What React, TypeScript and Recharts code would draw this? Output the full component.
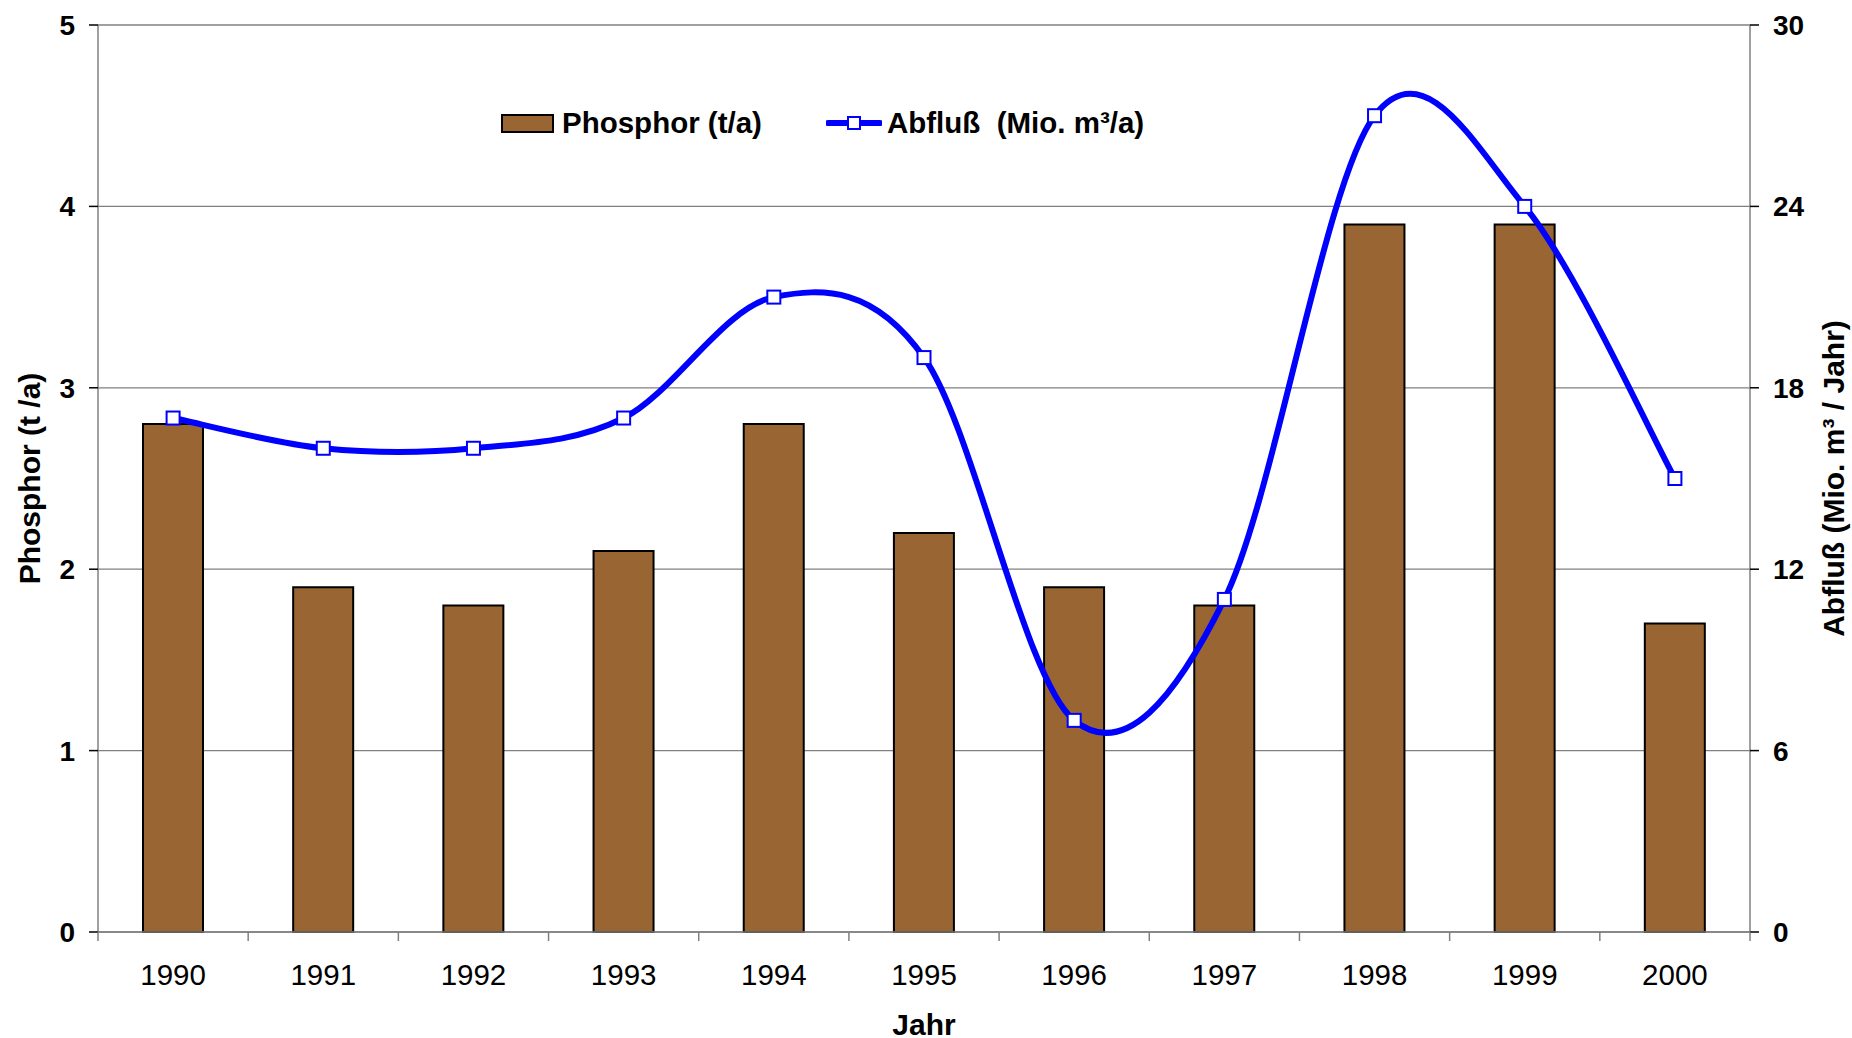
import React from 'react';
import { ComposedChart, Bar, Line, XAxis, YAxis, CartesianGrid, Legend } from 'recharts';

const YEARS = ['1990', '1991', '1992', '1993', '1994', '1995', '1996', '1997', '1998', '1999', '2000'];
const PHOSPHOR = [2.8, 1.9, 1.8, 2.1, 2.8, 2.2, 1.9, 1.8, 3.9, 3.9, 1.7];
const ABFLUSS = [17, 16, 16, 17, 21, 19, 7, 11, 27, 24, 15];

const LEFT_TICKS = [0, 1, 2, 3, 4, 5];
const RIGHT_TICKS = [0, 6, 12, 18, 24, 30];

const FONT = '"Liberation Sans", Arial, sans-serif';
const BROWN = '#996633';
const BLUE = '#0000ff';
const GRAY = '#808080';
const X_TICK_SIZE = 9;
const X_TICK_MARGIN = 23;

const chartData = YEARS.map((year, i) => ({
    year,
    phosphor: PHOSPHOR[i],
    abfluss: ABFLUSS[i]
}));

// Excel-style smoothed line (Catmull-Rom through the points)
const excelCurve = (context: any) => {
    let pts: number[][] = [];
    return {
        areaStart() {},
        areaEnd() {},
        lineStart() { pts = []; },
        point(x: number, y: number) { pts.push([+x, +y]); },
        lineEnd() {
            if (!pts.length) return;
            context.moveTo(pts[0][0], pts[0][1]);
            for (let i = 0; i < pts.length - 1; i++) {
                const p0 = pts[Math.max(i - 1, 0)];
                const p1 = pts[i];
                const p2 = pts[i + 1];
                const p3 = pts[Math.min(i + 2, pts.length - 1)];
                context.bezierCurveTo(
                    p1[0] + (p2[0] - p0[0]) / 6, p1[1] + (p2[1] - p0[1]) / 6,
                    p2[0] - (p3[0] - p1[0]) / 6, p2[1] - (p3[1] - p1[1]) / 6,
                    p2[0], p2[1]
                );
            }
        }
    };
};

const SquareDot = (props: any) => {
    const { cx, cy, index } = props;
    if (cx == null || cy == null) return <g key={index} />;
    return (
        <rect key={index} x={cx - 6.5} y={cy - 6.5} width={13} height={13}
            fill="#fff" stroke={BLUE} strokeWidth={2} />
    );
};

// year label plus the tick marks sitting between the categories
const YearTick = (props: any) => {
    const { x, y, payload, index, visibleTicksCount } = props;
    const half = payload && payload.offset ? payload.offset : 75;
    const axisY = y - X_TICK_SIZE - X_TICK_MARGIN;
    return (
        <g>
            <line x1={x - half} x2={x - half} y1={axisY} y2={axisY + X_TICK_SIZE} stroke={GRAY} strokeWidth={1.5} />
            {index === visibleTicksCount - 1 && (
                <line x1={x + half} x2={x + half} y1={axisY} y2={axisY + X_TICK_SIZE} stroke={GRAY} strokeWidth={1.5} />
            )}
            <text x={x} y={y} dy="0.71em" textAnchor="middle" fontSize={29.5} fontFamily={FONT} fill="#000">
                {payload.value}
            </text>
        </g>
    );
};

const LegendContent = () => (
    <div style={{ display: 'flex', alignItems: 'center', fontFamily: FONT, fontWeight: 'bold', fontSize: 29.5, color: '#000', whiteSpace: 'pre', lineHeight: '32px' }}>
        <div style={{ width: 53, height: 19, background: BROWN, border: '2px solid #000', boxSizing: 'border-box' }} />
        <span style={{ marginLeft: 8 }}>Phosphor (t/a)</span>
        <svg width={56} height={20} style={{ marginLeft: 64 }}>
            <line x1={2} y1={10} x2={54} y2={10} stroke={BLUE} strokeWidth={6} strokeLinecap="round" />
            <rect x={22} y={4} width={12} height={12} fill="#fff" stroke={BLUE} strokeWidth={2} />
        </svg>
        <span style={{ marginLeft: 5 }}>Abfluß  (Mio. m³/a)</span>
    </div>
);

export default function App() {
    const tickBold = { fontSize: 28, fontWeight: 'bold', fill: '#000', fontFamily: FONT };
    const titleStyle = { fontSize: 30, fontWeight: 'bold', fill: '#000', fontFamily: FONT, textAnchor: 'middle' as const };
    return (
        <div style={{ position: 'absolute', left: 0, top: 0, width: 1852, height: 1038, background: '#fff' }}>
            <ComposedChart width={1852} height={1038} data={chartData}
                margin={{ top: 25, right: 0, bottom: 0, left: 0 }}>
                <CartesianGrid yAxisId="left" vertical={false} stroke={GRAY} strokeWidth={1.3} />
                <XAxis dataKey="year" height={106} interval={0}
                    axisLine={{ stroke: GRAY, strokeWidth: 1.5 }} tickLine={false}
                    tickSize={X_TICK_SIZE} tickMargin={X_TICK_MARGIN}
                    tick={<YearTick />}
                    label={{ value: 'Jahr', position: 'insideBottom', offset: 3, style: titleStyle }} />
                <YAxis yAxisId="left" orientation="left" width={98} domain={[0, 5]} ticks={LEFT_TICKS}
                    interval={0} tickSize={9} tickMargin={14} tick={tickBold}
                    tickLine={{ stroke: '#000', strokeWidth: 1.5 }}
                    axisLine={{ stroke: GRAY, strokeWidth: 1.5 }}
                    label={{ value: 'Phosphor (t /a)', angle: -90, position: 'insideLeft', offset: 29, style: titleStyle }} />
                <YAxis yAxisId="right" orientation="right" width={102} domain={[0, 30]} ticks={RIGHT_TICKS}
                    interval={0} tickSize={9} tickMargin={14} tick={tickBold}
                    tickLine={{ stroke: '#000', strokeWidth: 1.5 }}
                    axisLine={{ stroke: GRAY, strokeWidth: 1.5 }}
                    label={{ value: 'Abfluß (Mio. m³ / Jahr)', angle: -90, position: 'insideRight', offset: 19, style: titleStyle }} />
                <Legend layout="vertical" align="center" verticalAlign="middle"
                    content={<LegendContent />}
                    wrapperStyle={{ top: 107, left: 501, width: 'auto', height: 'auto' }} />
                <Bar yAxisId="left" dataKey="phosphor" name="Phosphor (t/a)" fill={BROWN}
                    stroke="#000" strokeWidth={2} barSize={60} isAnimationActive={false} />
                <Line yAxisId="right" dataKey="abfluss" name="Abfluß  (Mio. m³/a)" type={excelCurve as any}
                    stroke={BLUE} strokeWidth={6} dot={<SquareDot />} activeDot={false}
                    isAnimationActive={false} />
            </ComposedChart>
        </div>
    );
}
